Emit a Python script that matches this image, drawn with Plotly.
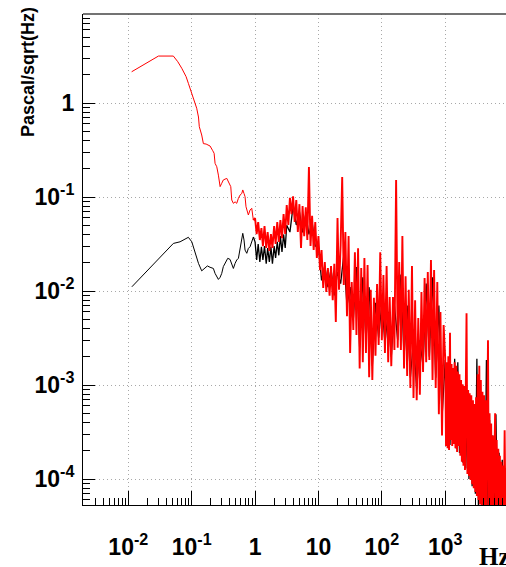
import math
import plotly.graph_objects as go

# ---------------- data ----------------
# red series, low-frequency smooth part
red_hz_low = [0.0113, 0.0299, 0.0514, 0.0604, 0.0698, 0.0816, 0.0887, 0.0968, 0.106, 0.113,
              0.120, 0.128, 0.132, 0.144, 0.153, 0.169, 0.195, 0.215, 0.226, 0.234,
              0.249, 0.264, 0.281, 0.298, 0.316, 0.358, 0.394, 0.414, 0.429, 0.455,
              0.484, 0.514, 0.546, 0.58, 0.617, 0.64, 0.67, 0.695, 0.72, 0.757,
              0.784, 0.834, 0.887, 0.94]
red_amp_low = [2.15, 3.16, 3.16, 2.75, 2.34, 1.91, 1.62, 1.37, 1.17, 1.03,
               0.88, 0.71, 0.56, 0.457, 0.37, 0.366, 0.349, 0.311, 0.292, 0.228,
               0.21, 0.171, 0.129, 0.14, 0.152, 0.158, 0.14, 0.129, 0.093, 0.0857,
               0.089, 0.0857, 0.0969, 0.105, 0.109, 0.119, 0.109, 0.101, 0.0788, 0.0698,
               0.0644, 0.0728, 0.0759, 0.0569]

# red series 1-10 Hz
red_hz_d0 = [1.00, 1.06, 1.12, 1.19, 1.26, 1.33, 1.41, 1.50, 1.58, 1.68,
             1.78, 1.88, 2.00, 2.11, 2.24, 2.37, 2.51, 2.66, 2.82, 2.99,
             3.16, 3.35, 3.55, 3.76, 3.98, 4.22, 4.47, 4.73, 5.01, 5.31,
             5.62, 5.96, 6.31, 6.68, 7.08, 7.50, 7.94, 8.41, 8.91, 9.44]
red_amp_d0 = [0.0598, 0.0404, 0.0542, 0.0349, 0.0468, 0.0301, 0.0491, 0.0287, 0.0424, 0.0267,
              0.0404, 0.0287, 0.0491, 0.0317, 0.0542, 0.0333, 0.0569, 0.0366, 0.0658, 0.0404,
              0.082, 0.0504, 0.098, 0.0658, 0.102, 0.0542, 0.093, 0.0424, 0.084, 0.0287,
              0.080, 0.0384, 0.078, 0.0349, 0.209, 0.0301, 0.063, 0.0273, 0.0542, 0.0225]

# red series 10-100 Hz
red_hz_d1 = [10.0, 10.6, 11.2, 11.9, 12.6, 13.3, 14.1, 15.0, 15.8, 16.8,
             17.8, 18.8, 20.0, 21.1, 22.4, 23.7, 25.1, 26.6, 28.2, 29.9,
             31.6, 33.5, 35.5, 37.6, 39.8, 42.2, 44.7, 47.3, 50.1, 53.1,
             56.2, 59.6, 63.1, 66.8, 70.8, 75.0, 79.4, 84.1, 89.1, 94.4]
red_amp_d1 = [0.0384, 0.0167, 0.0273, 0.0108, 0.0204, 0.0098, 0.0176, 0.0089, 0.0185, 0.0080,
              0.0195, 0.0047, 0.0598, 0.0103, 0.0309, 0.163, 0.0116, 0.0424, 0.0054, 0.0384,
              0.0022, 0.0125, 0.00385, 0.0258, 0.0034, 0.0286, 0.0015, 0.0176, 0.00175, 0.0225,
              0.0022, 0.0189, 0.00121, 0.0103, 0.00113, 0.0085, 0.00205, 0.0119, 0.00267, 0.0258]

# red series 100-1000 Hz
red_hz_d2 = [100, 106, 112, 119, 126, 133, 141, 150, 158, 168,
             178, 188, 200, 211, 224, 237, 251, 266, 282, 299,
             316, 335, 355, 376, 398, 422, 447, 473, 501, 531,
             562, 596, 631, 668, 708, 750, 794, 841, 891, 944]
red_amp_d2 = [0.0030, 0.0148, 0.0022, 0.0185, 0.00175, 0.00863, 0.00159, 0.00863, 0.00236, 0.152,
              0.0025, 0.0204, 0.00236, 0.0385, 0.0015, 0.0144, 0.00125, 0.0103, 0.00093, 0.0185,
              0.00073, 0.0080, 0.00069, 0.00516, 0.00079, 0.00976, 0.00138, 0.0138, 0.00175, 0.0159,
              0.00185, 0.0214, 0.00113, 0.0167, 0.00093, 0.0125, 0.00049, 0.00598, 0.00029, 0.00435]

# red series above 1 kHz
red_hz_d3 = [1000, 1030, 1060, 1090, 1120, 1150, 1190, 1220, 1260, 1290,
             1330, 1370, 1410, 1450, 1500, 1540, 1580, 1630, 1680, 1730,
             1780, 1830, 1880, 1940, 2000, 2050, 2110, 2170, 2240, 2300,
             2370, 2430, 2510, 2580, 2660, 2740, 2820, 2900, 2990, 3070,
             3160, 3250, 3350, 3450, 3550, 3650, 3760, 3870, 3980, 4100,
             4220, 4340, 4470, 4600, 4730, 4870, 5010, 5160, 5310, 5460,
             5620, 5780, 5960, 6130, 6310, 6490, 6680, 6880, 7080, 7290,
             7500, 7720, 7940, 8170, 8410, 8660, 8910, 9170]
red_amp_d3 = [0.00196, 2.25e-4, 0.00175, 2.13e-4, 0.00202, 2.04e-4, 0.0036, 2.6e-4, 0.00167, 2.25e-4,
              0.00152, 2.36e-4, 0.00175, 2.13e-4, 0.0016, 1.94e-4, 0.00139, 2.25e-4, 0.0013, 1.77e-4,
              0.00113, 1.53e-4, 0.00102, 1.39e-4, 9.8e-4, 1.25e-4, 9.2e-4, 0.0058, 1.13e-4, 8.85e-4,
              1.08e-4, 8.2e-4, 9.8e-5, 7.8e-4, 8.8e-5, 6.9e-4, 8.0e-5, 6.3e-4, 7.3e-5, 7.4e-4,
              6.6e-5, 0.0013, 6.0e-5, 0.0016, 5.4e-5, 0.00113, 4.6e-5, 8.5e-4, 4.4e-5, 7.8e-4,
              4.4e-5, 6.9e-4, 4.4e-5, 6.0e-4, 0.0030, 4.4e-5, 5.0e-4, 4.4e-5, 3.9e-4, 4.4e-5,
              2.9e-4, 4.4e-5, 4.25e-4, 5.0e-4, 4.4e-5, 2.6e-4, 4.4e-5, 2.1e-4, 4.4e-5, 1.77e-4,
              4.4e-5, 1.53e-4, 4.4e-5, 1.39e-4, 4.4e-5, 3.3e-4, 4.4e-5, 1.3e-4]

# black series, low-frequency smooth part
black_hz_low = [0.0114, 0.0514, 0.0656, 0.0887, 0.1005, 0.113, 0.128, 0.144, 0.163, 0.177,
                0.195, 0.22, 0.234, 0.264, 0.281, 0.298, 0.316, 0.349, 0.371, 0.403,
                0.429, 0.455, 0.484, 0.514, 0.546, 0.58, 0.617, 0.64, 0.67, 0.695,
                0.74, 0.784, 0.834, 0.887, 0.94]
black_amp_low = [0.0111, 0.0321, 0.0334, 0.0373, 0.0334, 0.0252, 0.0197, 0.0164, 0.0174, 0.0185,
                 0.0179, 0.0174, 0.0154, 0.0133, 0.014, 0.0154, 0.0182, 0.021, 0.0223, 0.0217,
                 0.0189, 0.0174, 0.0197, 0.0214, 0.0223, 0.0273, 0.0349, 0.0411, 0.0349, 0.0273,
                 0.0252, 0.0284, 0.0296, 0.0334, 0.0375]

# black series 1-1000 Hz
black_hz_mid = [1.00, 1.06, 1.12, 1.19, 1.26, 1.33, 1.41, 1.50, 1.58, 1.68,
                1.78, 1.88, 2.00, 2.11, 2.24, 2.37, 2.51, 2.66, 2.82, 2.99,
                3.16, 3.55, 3.98, 4.47, 5.01, 5.62, 6.31, 7.08, 7.94, 8.91,
                10.0, 11.2, 12.6, 14.1, 15.8, 17.8, 20.0, 22.4, 25.1, 28.2,
                31.6, 35.5, 39.8, 44.7, 50.1, 56.2, 63.1, 70.8, 79.4, 89.1,
                100, 112, 126, 141, 158, 178, 200, 224, 251, 282,
                316, 355, 398, 447, 501, 562, 631, 708, 794, 891]
black_amp_mid = [0.0334, 0.0214, 0.0317, 0.0204, 0.0296, 0.0214, 0.0301, 0.0195, 0.0287, 0.0204,
                 0.0296, 0.0195, 0.0301, 0.0225, 0.0334, 0.0240, 0.0384, 0.0260, 0.0400, 0.0287,
                 0.0500, 0.0424, 0.080, 0.0504, 0.0700, 0.0420, 0.066, 0.0400, 0.0540, 0.0300,
                 0.0300, 0.0130, 0.0185, 0.0110, 0.0170, 0.0090, 0.0160, 0.0120, 0.0240, 0.0070,
                 0.0110, 0.0050, 0.0180, 0.0025, 0.0140, 0.0030, 0.0110, 0.0016, 0.0075, 0.0032,
                 0.0075, 0.0028, 0.0060, 0.0020, 0.0070, 0.0030, 0.0150, 0.0020, 0.0070, 0.0012,
                 0.0030, 9.0e-4, 0.0030, 0.0016, 0.0120, 0.0020, 0.0140, 0.0012, 0.0070, 4.5e-4]

# black series above 1 kHz
black_hz_hi = [1000, 1060, 1120, 1190, 1260, 1330, 1410, 1500, 1580, 1680,
               1780, 1880, 2000, 2110, 2240, 2370, 2510, 2660, 2820, 2990,
               3160, 3350, 3550, 3760, 3980, 4220, 4470, 4730, 5010, 5310,
               5620, 5960, 6310, 6680, 7080, 7500, 7940, 8410, 8910]
black_amp_hi = [0.00185, 2.6e-4, 0.00144, 2.3e-4, 0.0014, 2.6e-4, 0.0019, 2.1e-4, 0.00175, 1.9e-4,
                0.001, 1.5e-4, 8.8e-4, 1.3e-4, 6.9e-4, 1.0e-4, 6.1e-4, 8.4e-5, 5.4e-4, 7e-5,
                0.0019, 4.4e-5, 0.00113, 4.4e-5, 7.4e-4, 4.4e-5, 0.00185, 4.4e-5, 4.25e-4, 4.4e-5,
                2.9e-4, 4.4e-5, 4.9e-4, 4.4e-5, 1.9e-4, 4.4e-5, 1.6e-4, 4.4e-5, 1.25e-4]

x_tick_vals = [0.01, 0.1, 1, 10, 100, 1000]
x_tick_text = ["10<sup>-2</sup>", "10<sup>-1</sup>", "1", "10", "10<sup>2</sup>", "10<sup>3</sup>"]
y_tick_vals = [1e-4, 1e-3, 1e-2, 1e-1, 1]
y_tick_text = ["10<sup>-4</sup>", "10<sup>-3</sup>", "10<sup>-2</sup>", "10<sup>-1</sup>", "1"]
x_range = [0.00193, 9100]
y_range = [5.3e-5, 8.85]
x_title = "Hz"
y_title = "Pascal/sqrt(Hz)"

# ---------------- figure ----------------
black_noisy_hz = black_hz_low[-1:] + black_hz_mid + black_hz_hi
black_noisy_amp = black_amp_low[-1:] + black_amp_mid + black_amp_hi
red_noisy_hz = red_hz_low[-1:] + red_hz_d0 + red_hz_d1 + red_hz_d2 + red_hz_d3
red_noisy_amp = red_amp_low[-1:] + red_amp_d0 + red_amp_d1 + red_amp_d2 + red_amp_d3

fig = go.Figure()
fig.add_trace(go.Scatter(x=black_hz_low, y=black_amp_low, mode="lines",
                         line=dict(color="black", width=1), showlegend=False))
fig.add_trace(go.Scatter(x=black_noisy_hz, y=black_noisy_amp, mode="lines",
                         line=dict(color="black", width=1.3), showlegend=False))
fig.add_trace(go.Scatter(x=red_hz_low, y=red_amp_low, mode="lines",
                         line=dict(color="#ff0000", width=1), showlegend=False))
fig.add_trace(go.Scatter(x=red_noisy_hz, y=red_noisy_amp, mode="lines",
                         line=dict(color="#ff0000", width=1.9), showlegend=False))


def minor_vals(lo_exp, hi_exp):
    return [m * 10.0 ** e for e in range(lo_exp, hi_exp) for m in range(2, 10)]


font_fam = "Liberation Sans, Arial, Helvetica, sans-serif"
tickfont = dict(family=font_fam, size=23, color="black", weight=700)
grid_style = dict(showgrid=True, gridcolor="#a8a8a8", griddash="1px,3px", gridwidth=1)

fig.update_xaxes(type="log", range=[math.log10(x_range[0]), math.log10(x_range[1])],
                 showline=True, linecolor="black", linewidth=1, mirror=False,
                 ticks="inside", ticklen=14, tickwidth=1, tickcolor="black",
                 tickmode="array", tickvals=x_tick_vals, ticktext=x_tick_text,
                 tickfont=tickfont, ticklabelstandoff=21,
                 zeroline=False,
                 minor=dict(ticks="inside", ticklen=7, tickwidth=1, tickcolor="black",
                            tickmode="array", tickvals=minor_vals(-3, 4), showgrid=False),
                 **grid_style)
fig.update_yaxes(type="log", range=[math.log10(y_range[0]), math.log10(y_range[1])],
                 showline=True, linecolor="black", linewidth=1, mirror=False,
                 ticks="inside", ticklen=12, tickwidth=1, tickcolor="black",
                 tickmode="array", tickvals=y_tick_vals, ticktext=y_tick_text,
                 tickfont=tickfont, ticklabelstandoff=3,
                 zeroline=False,
                 minor=dict(ticks="inside", ticklen=7, tickwidth=1, tickcolor="black",
                            tickmode="array", tickvals=minor_vals(-5, 1), showgrid=False),
                 **grid_style)

fig.add_shape(type="line", xref="paper", yref="paper", x0=0, x1=1, y0=1, y1=1,
              line=dict(color="#444444", width=1.5))

fig.add_annotation(text=y_title, xref="paper", yref="paper", x=0, y=1,
                   xanchor="center", yanchor="top", xshift=-55, yshift=9,
                   textangle=-90, showarrow=False,
                   font=dict(family=font_fam, size=18, color="black", weight=700))
fig.add_annotation(text=x_title, xref="paper", yref="paper", x=1, y=0,
                   xanchor="left", yanchor="top", xshift=-29, yshift=-36,
                   showarrow=False,
                   font=dict(family="Liberation Serif, Times New Roman, serif", size=25,
                             color="black", weight=700))

fig.update_layout(width=506, height=567,
                  margin=dict(l=83, r=0, t=14, b=62, pad=0),
                  paper_bgcolor="white", plot_bgcolor="white",
                  showlegend=False)

fig.write_html("out.html")
